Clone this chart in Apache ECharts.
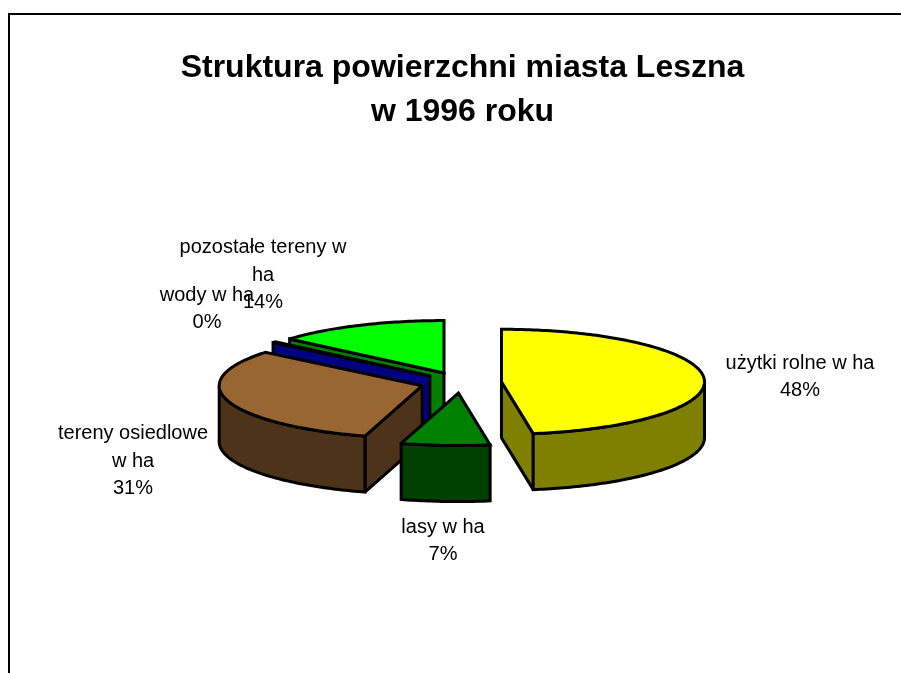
<!DOCTYPE html>
<html>
<head>
<meta charset="utf-8">
<style>html,body{margin:0;padding:0;background:#fff;overflow:hidden}#c{width:901px;height:673px}</style>
<script src="https://cdn.jsdelivr.net/npm/echarts@6/dist/echarts.min.js"></script>
</head>
<body>
<div id="c"></div>
<script>
// ---- data ----
const categories = ['użytki rolne w ha', 'lasy w ha', 'tereny osiedlowe w ha', 'wody w ha', 'pozostałe tereny w ha'];
const values = [47.5, 7.05, 31.4, 0.3, 13.75];
const titleLines = ['Struktura powierzchni miasta Leszna', 'w 1996 roku'];

// ---- styles and layout ----
const topColors = ['#FFFF00', '#008000', '#996633', '#0000FF', '#00FF00'];
const sideColors = ['#808000', '#004000', '#4D3319', '#000080', '#008000'];
const labelBreaks = ['użytki rolne w ha', 'lasy w ha', 'tereny osiedlowe\nw ha', 'wody w ha', 'pozostałe tereny w\nha'];
const labelAnchors = [[800, 377], [443, 541], [133, 461], [207, 309], [263, 275]];
const pie = { cx: 461, cy: 382.6, rx: 203, ry: 52.5, depth: 56, explode: 0.2 };
const FONT = '"Liberation Sans", Arial, sans-serif';

const total = values.reduce((a, b) => a + b, 0);
const rad = d => d * Math.PI / 180;
const starts = [];
values.reduce((acc, v, i) => { starts[i] = acc; return acc + v; }, 0);

function renderItem(params, api) {
  const i = params.dataIndex;
  const a0 = starts[i] / total * 360;
  const a1 = a0 + api.value(0) / total * 360;
  const mid = (a0 + a1) / 2;
  const ox = pie.cx + pie.explode * pie.rx * Math.sin(rad(mid));
  const oy = pie.cy - pie.explode * pie.ry * Math.cos(rad(mid));
  const at = (deg, drop) => [ox + pie.rx * Math.sin(rad(deg)), oy - pie.ry * Math.cos(rad(deg)) + (drop || 0)];
  const arc = (from, to, drop) => {
    const pts = [];
    const n = Math.max(1, Math.ceil(Math.abs(to - from)));
    for (let k = 0; k <= n; k++) pts.push(at(from + (to - from) * k / n, drop));
    return pts;
  };
  const base = Math.round(-Math.cos(rad(mid)) * 1000) + 2000;
  const style = fill => ({ fill, stroke: '#000', lineWidth: 3, lineJoin: 'miter', miterLimit: 2 });
  const children = [];
  const poly = (points, fill) => children.push({
    type: 'polygon', z2: base * 10 + children.length, shape: { points }, style: style(fill), silent: true
  });
  const side = sideColors[i];
  // radial cut faces that look towards the viewer
  if (Math.sin(rad(a0)) < -1e-6) poly([[ox, oy], at(a0), at(a0, pie.depth), [ox, oy + pie.depth]], side);
  if (Math.sin(rad(a1)) > 1e-6) poly([[ox, oy], at(a1), at(a1, pie.depth), [ox, oy + pie.depth]], side);
  // outer wall: front half of the rim only
  const w0 = Math.max(a0, 90), w1 = Math.min(a1, 270);
  if (w1 > w0) poly(arc(w0, w1, 0).concat(arc(w1, w0, pie.depth)), side);
  // top face
  poly([[ox, oy]].concat(arc(a0, a1, 0)), topColors[i]);
  return { type: 'group', children };
}

const labelGraphics = categories.map((c, i) => ({
  type: 'text', x: labelAnchors[i][0], y: labelAnchors[i][1], z: 50,
  style: {
    text: labelBreaks[i] + '\n' + Math.round(values[i] / total * 100) + '%',
    font: '20px ' + FONT, lineHeight: 27.3, fill: '#000',
    align: 'center', verticalAlign: 'middle'
  }
}));

const chart = echarts.init(document.getElementById('c'), null, { renderer: 'canvas' });
chart.setOption({
  animation: false,
  backgroundColor: '#fff',
  title: {
    text: titleLines.join('\n'),
    left: 457.5, top: 41, textAlign: 'center',
    textStyle: { fontFamily: FONT, fontSize: 32, fontWeight: 'bold', color: '#000', lineHeight: 44 }
  },
  graphic: [
    { type: 'polyline', z: 40, shape: { points: [[9, 673], [9, 14], [901, 14]] }, style: { fill: null, stroke: '#000', lineWidth: 2 } }
  ].concat(labelGraphics),
  series: [{
    type: 'custom',
    coordinateSystem: 'none',
    renderItem,
    data: values.map((v, i) => ({ name: categories[i], value: [v] }))
  }]
});
</script>
</body>
</html>
